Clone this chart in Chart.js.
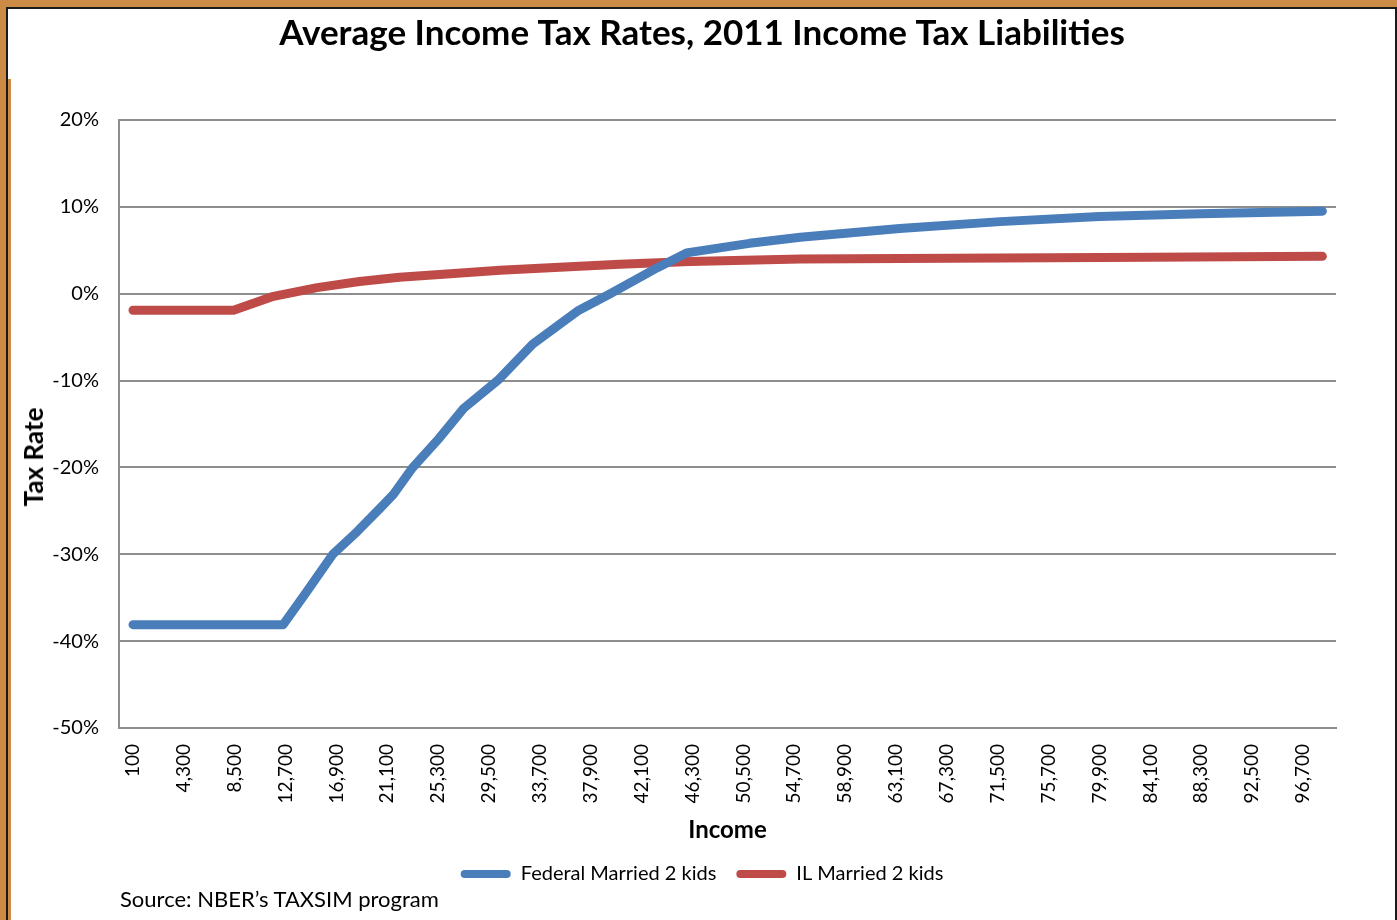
<!DOCTYPE html>
<html>
<head>
<meta charset="utf-8">
<title>Average Income Tax Rates</title>
<script src="https://cdn.jsdelivr.net/npm/chart.js@4/dist/chart.umd.min.js"></script>
<style>
  html, body { margin: 0; padding: 0; background: #fff; }
  #wrap { position: relative; width: 1397px; height: 920px; overflow: hidden; }
  #chart { position: absolute; left: 0; top: 0; }
  .frame { position: absolute; pointer-events: none; }
  #source {
    position: absolute; left: 120px; top: 885px;
    font: 22px Lato, "Open Sans", sans-serif; line-height: 28px; color: #000;
  }
  #ytitle {
    position: absolute; left: 33px; top: 457px; white-space: nowrap;
    transform: translate(-50%, -50%) rotate(-90deg);
    font: bold 26px Lato, "Open Sans", sans-serif; color: #000;
  }
</style>
</head>
<body>
<div id="wrap">
  <canvas id="chart" width="1397" height="920"></canvas>
  <!-- frame bits round the picture -->
  <div class="frame" style="left:0;top:0;width:1397px;height:7px;background:#cc8b45"></div>
  <div class="frame" style="left:0;top:7px;width:1397px;height:2px;background:#1a1a1a"></div>
  <div class="frame" style="left:0;top:0;width:6px;height:920px;background:#cc8b45"></div>
  <div class="frame" style="left:6px;top:7px;width:2px;height:913px;background:#1a1a1a"></div>
  <div class="frame" style="left:8px;top:79px;width:3px;height:841px;background:#cc8b45"></div>
  <div class="frame" style="left:1395px;top:9px;width:2px;height:911px;background:#1a1a1a"></div>
  <div id="ytitle">Tax Rate</div>
  <div id="source">Source: NBER’s TAXSIM program</div>
</div>

<script>
// ---- data (income in dollars, rate in percent) ----
const fedIncome = [100, 12500, 14300, 16600, 18600, 20500, 21600, 23200, 25400, 27400, 30200,
                   33100, 36800, 39500, 43400, 45800, 51000, 55200, 63400, 71700, 79900, 88200, 98300];
const fedRate   = [-38.1, -38.1, -34.6, -30.0, -27.4, -24.7, -23.1, -20.0, -16.6, -13.2, -10.0,
                   -5.8, -2.0, 0.0, 3.0, 4.7, 5.8, 6.5, 7.5, 8.3, 8.9, 9.2, 9.5];

const ilIncome  = [100, 8400, 11700, 15300, 18800, 22100, 26300, 30400, 34500, 40300, 46100,
                   55200, 71700, 84100, 98300];
const ilRate    = [-1.9, -1.9, -0.3, 0.7, 1.4, 1.9, 2.3, 2.7, 3.0, 3.4, 3.7,
                   4.0, 4.1, 4.2, 4.3];

// x tick labels every 4,200
const xTicks = [100, 4300, 8500, 12700, 16900, 21100, 25300, 29500, 33700, 37900, 42100, 46300,
                50500, 54700, 58900, 63100, 67300, 71500, 75700, 79900, 84100, 88300, 92500, 96700];
const yTicks = [-50, -40, -30, -20, -10, 0, 10, 20];

const BLUE = "#4a7ebb";
const RED  = "#be4b48";
const GRID = "#8e8e8e";
const FONT = "Lato, 'Open Sans', sans-serif";

function toPoints(xs, ys) {
  return xs.map((x, i) => ({ x: x, y: ys[i] }));
}

const ctx = document.getElementById("chart").getContext("2d");
new Chart(ctx, {
  type: "line",
  data: {
    datasets: [
      { label: "Federal Married 2 kids", data: toPoints(fedIncome, fedRate),
        borderColor: BLUE, backgroundColor: BLUE, borderWidth: 9,
        borderCapStyle: "round", borderJoinStyle: "round", pointRadius: 0, tension: 0 },
      { label: "IL Married 2 kids", data: toPoints(ilIncome, ilRate),
        borderColor: RED, backgroundColor: RED, borderWidth: 9,
        borderCapStyle: "round", borderJoinStyle: "round", pointRadius: 0, tension: 0 }
    ]
  },
  options: {
    responsive: false,
    animation: false,
    devicePixelRatio: 1,
    layout: { padding: { left: 7, right: 0, top: 0, bottom: 26 } },
    scales: {
      x: {
        type: "linear",
        min: -1056, max: 99422,
        afterBuildTicks: s => { s.ticks = xTicks.map(v => ({ value: v })); },
        afterFit: s => { s.height = 116; },
        grid: { display: false },
        border: { display: true, color: GRID, width: 2 },
        ticks: {
          autoSkip: false, maxRotation: 90, minRotation: 90, padding: 8,
          color: "#000", font: { family: FONT, size: 19 },
          callback: v => v.toLocaleString("en-US")
        },
        title: { display: true, text: "Income", color: "#000",
                 font: { family: FONT, size: 24, weight: "bold" }, padding: { top: 0, bottom: -1 } }
      },
      y: {
        min: -50, max: 20,
        afterBuildTicks: s => { s.ticks = yTicks.map(v => ({ value: v })); },
        afterFit: s => { s.width = 112; },
        grid: { color: GRID, lineWidth: 2, drawTicks: false },
        border: { display: true, color: GRID, width: 2 },
        ticks: { padding: 20, color: "#000", font: { family: FONT, size: 20 },
                 callback: v => v + "%" },
        title: { display: false }
      },
      // empty right axis only keeps the gap at the right of the plot
      yRight: {
        position: "right", display: true,
        afterFit: s => { s.width = 61; },
        grid: { display: false }, border: { display: false },
        ticks: { display: false }
      }
    },
    plugins: {
      title: {
        display: true,
        text: "Average Income Tax Rates, 2011 Income Tax Liabilities",
        color: "#000",
        font: { family: FONT, size: 35, weight: "bold", lineHeight: 1.2 },
        padding: { top: 13, bottom: 65 }
      },
      legend: {
        position: "bottom",
        labels: {
          color: "#000", font: { family: FONT, size: 20 },
          boxWidth: 50, boxHeight: 8, padding: 20,
          useBorderRadius: true, borderRadius: 4,
          generateLabels: chart => Chart.defaults.plugins.legend.labels.generateLabels(chart)
            .map(it => Object.assign(it, { lineWidth: 0 }))
        }
      },
      tooltip: { enabled: false }
    }
  }
});
</script>
</body>
</html>
